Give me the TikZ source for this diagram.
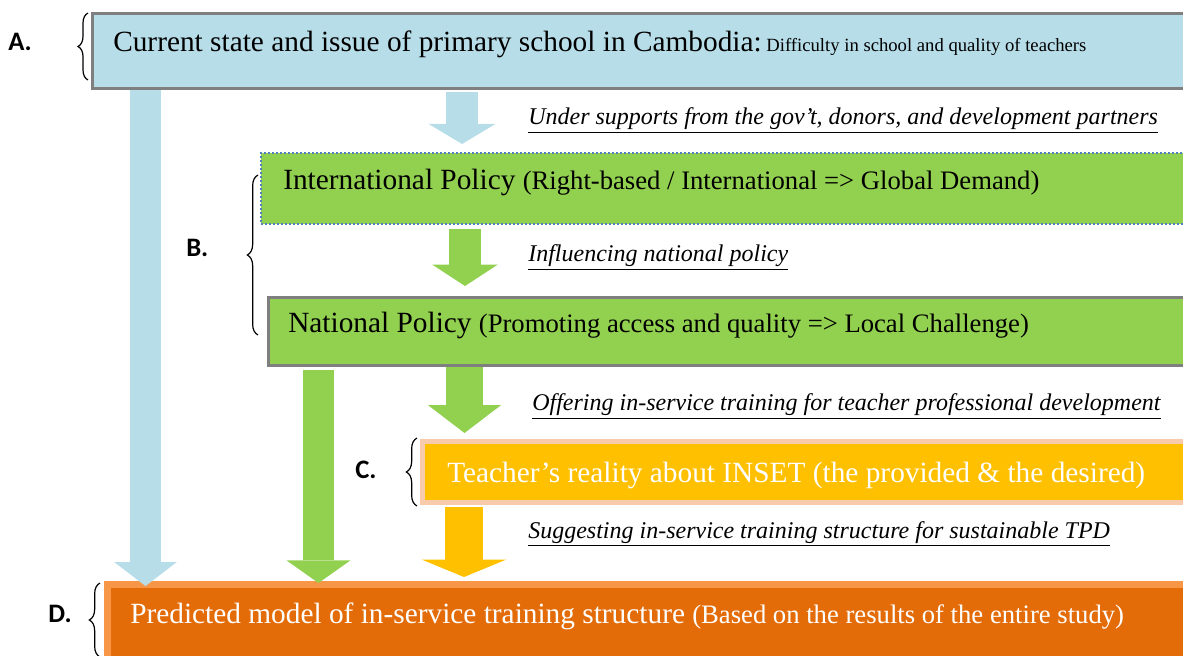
\documentclass[tikz,border=0pt]{standalone}
\usepackage{fontspec}
\setmainfont{Liberation Serif}[ItalicFont={Liberation Serif Italic},BoldFont={Liberation Serif Bold}]
\newfontfamily\lblfont{Carlito}
\usetikzlibrary{arrows.meta,decorations.pathreplacing}
\definecolor{cur}{HTML}{B7DDE8}
\definecolor{curedge}{HTML}{7F7F7F}
\definecolor{pol}{HTML}{92D050}
\definecolor{dots}{HTML}{4F81BD}
\definecolor{tea}{HTML}{FFC000}
\definecolor{teaedge}{HTML}{F8CBAD}
\definecolor{pred}{HTML}{E36C09}
\definecolor{prededge}{HTML}{F79646}
\tikzset{cur/.style={draw=curedge,fill=cur,rectangle,line width=2.25pt,inner sep=0pt,minimum width=823pt,minimum height=56.25pt}}
\tikzset{intl/.style={draw=dots,fill=pol,rectangle,line width=1.5pt,dash pattern=on 1.5pt off 1.5pt,inner sep=0pt,minimum width=696.75pt,minimum height=53.25pt}}
\tikzset{natl/.style={draw=curedge,fill=pol,rectangle,line width=2.25pt,inner sep=0pt,minimum width=691.1pt,minimum height=51pt}}
\tikzset{tea/.style={draw=teaedge,fill=tea,rectangle,line width=3.75pt,inner sep=0pt,minimum width=575.6pt,minimum height=45.75pt}}
\tikzset{pred/.style={draw=prededge,fill=pred,rectangle,line width=5.25pt,inner sep=0pt,minimum width=811.9pt,minimum height=71.6pt}}
\tikzset{txt/.style={anchor=base west,inner sep=0pt}}
\tikzset{note/.style={anchor=base west,inner sep=0pt,font=\fontsize{18}{18}\selectfont\itshape}}
\tikzset{lbl/.style={anchor=base west,inner sep=0pt,font=\lblfont\bfseries\fontsize{20}{20}\selectfont}}
\tikzset{blk/.style n args={3}{line width=#1,-{Triangle[width=#2,length=#3,line width=0pt]}}}
\tikzset{brc/.style={decorate,decoration={brace,amplitude=#1},line width=0.9pt}}
\newcommand{\bigtxt}[1]{{\fontsize{22}{22}\selectfont #1}}
\newcommand{\midtxt}[1]{{\fontsize{20}{20}\selectfont #1}}

\begin{document}
\begin{tikzpicture}[x=0.75pt,y=-0.75pt]
    \clip (0,0) rectangle (1183,656);

    % boxes
    \node[cur] (cur) at (641.25,51) {};
    \node[intl] (intl) at (725.5,188.5) {};
    \node[natl] (natl) at (729.25,331.5) {};
    \node[tea] (tea) at (806.25,472) {};
    \node[pred] (pred) at (648.75,632.25) {};

    \node[txt] (curtxt) at (113,52) {\bigtxt{Current state and issue of primary school in Cambodia:}{\fontsize{14}{14}\selectfont\ Difficulty in school and quality of teachers}};
    \node[txt] (intltxt) at (283,190) {\bigtxt{International Policy }\midtxt{(Right-based / International => Global Demand)}};
    \node[txt] (natltxt) at (288,333) {\bigtxt{National Policy }\midtxt{(Promoting access and quality => Local Challenge)}};
    \node[txt,text=white] (teatxt) at (447,482) {\bigtxt{Teacher’s reality about INSET (the provided \& the desired)}};
    \node[txt,text=white] (predtxt) at (130,623) {\bigtxt{Predicted model of in-service training structure }\midtxt{(Based on the results of the entire study)}};

    % arrow columns
    \coordinate (colA) at (145.5,0);
    \coordinate (colB) at (462,0);
    \coordinate (colC) at (465,0);
    \coordinate (colD) at (318.5,0);
    \coordinate (colE) at (464.5,0);
    \coordinate (colF) at (464,0);

    \draw[draw=cur,blk={23.25pt}{47pt}{18pt}] (cur.south -| colA) -- ([yshift=-3.75pt]pred.north -| colA);
    \draw[draw=cur,blk={24pt}{50pt}{15pt}] ([yshift=-1.5pt]cur.south -| colB) -- ([yshift=6pt]intl.north -| colB);
    \draw[draw=pol,blk={24pt}{49pt}{16pt}] ([yshift=-3pt]intl.south -| colC) -- ([yshift=7.5pt]natl.north -| colC);
    \draw[draw=pol,blk={23.25pt}{48pt}{17pt}] ([yshift=-2pt]natl.south -| colD) -- ([yshift=-1.5pt]pred.north -| colD);
    \draw[draw=pol,blk={27.75pt}{55pt}{21pt}] (natl.south -| colE) -- ([yshift=4.5pt]tea.north -| colE);
    \draw[draw=tea,blk={29pt}{63pt}{13pt}] ([yshift=-1.5pt]tea.south -| colF) -- ([yshift=3pt]pred.north -| colF);

    % notes
    \node[note] (n1) at (528,125) {\underline{Under supports from the gov’t, donors, and development partners}};
    \node[note] (n2) at (528,262) {\underline{Influencing national policy}};
    \node[note] (n3) at (532,411) {\underline{Offering in-service training for teacher professional development}};
    \node[note] (n4) at (528,538) {\underline{Suggesting in-service training structure for sustainable TPD}};

    % braces
    \draw[brc=7.5pt] (88,80) -- (88,13);
    \draw[brc=8pt] (258,335) -- (258,175);
    \draw[brc=8pt] (417,506) -- (417,438);
    \draw[brc=8pt] (100,657) -- (100,583);

    \node[lbl] (la) at (8,51) {A.};
    \node[lbl] (lb) at (186,257) {B.};
    \node[lbl] (lc) at (355,478) {C.};
    \node[lbl] (ld) at (48,622) {D.};
\end{tikzpicture}
\end{document}
